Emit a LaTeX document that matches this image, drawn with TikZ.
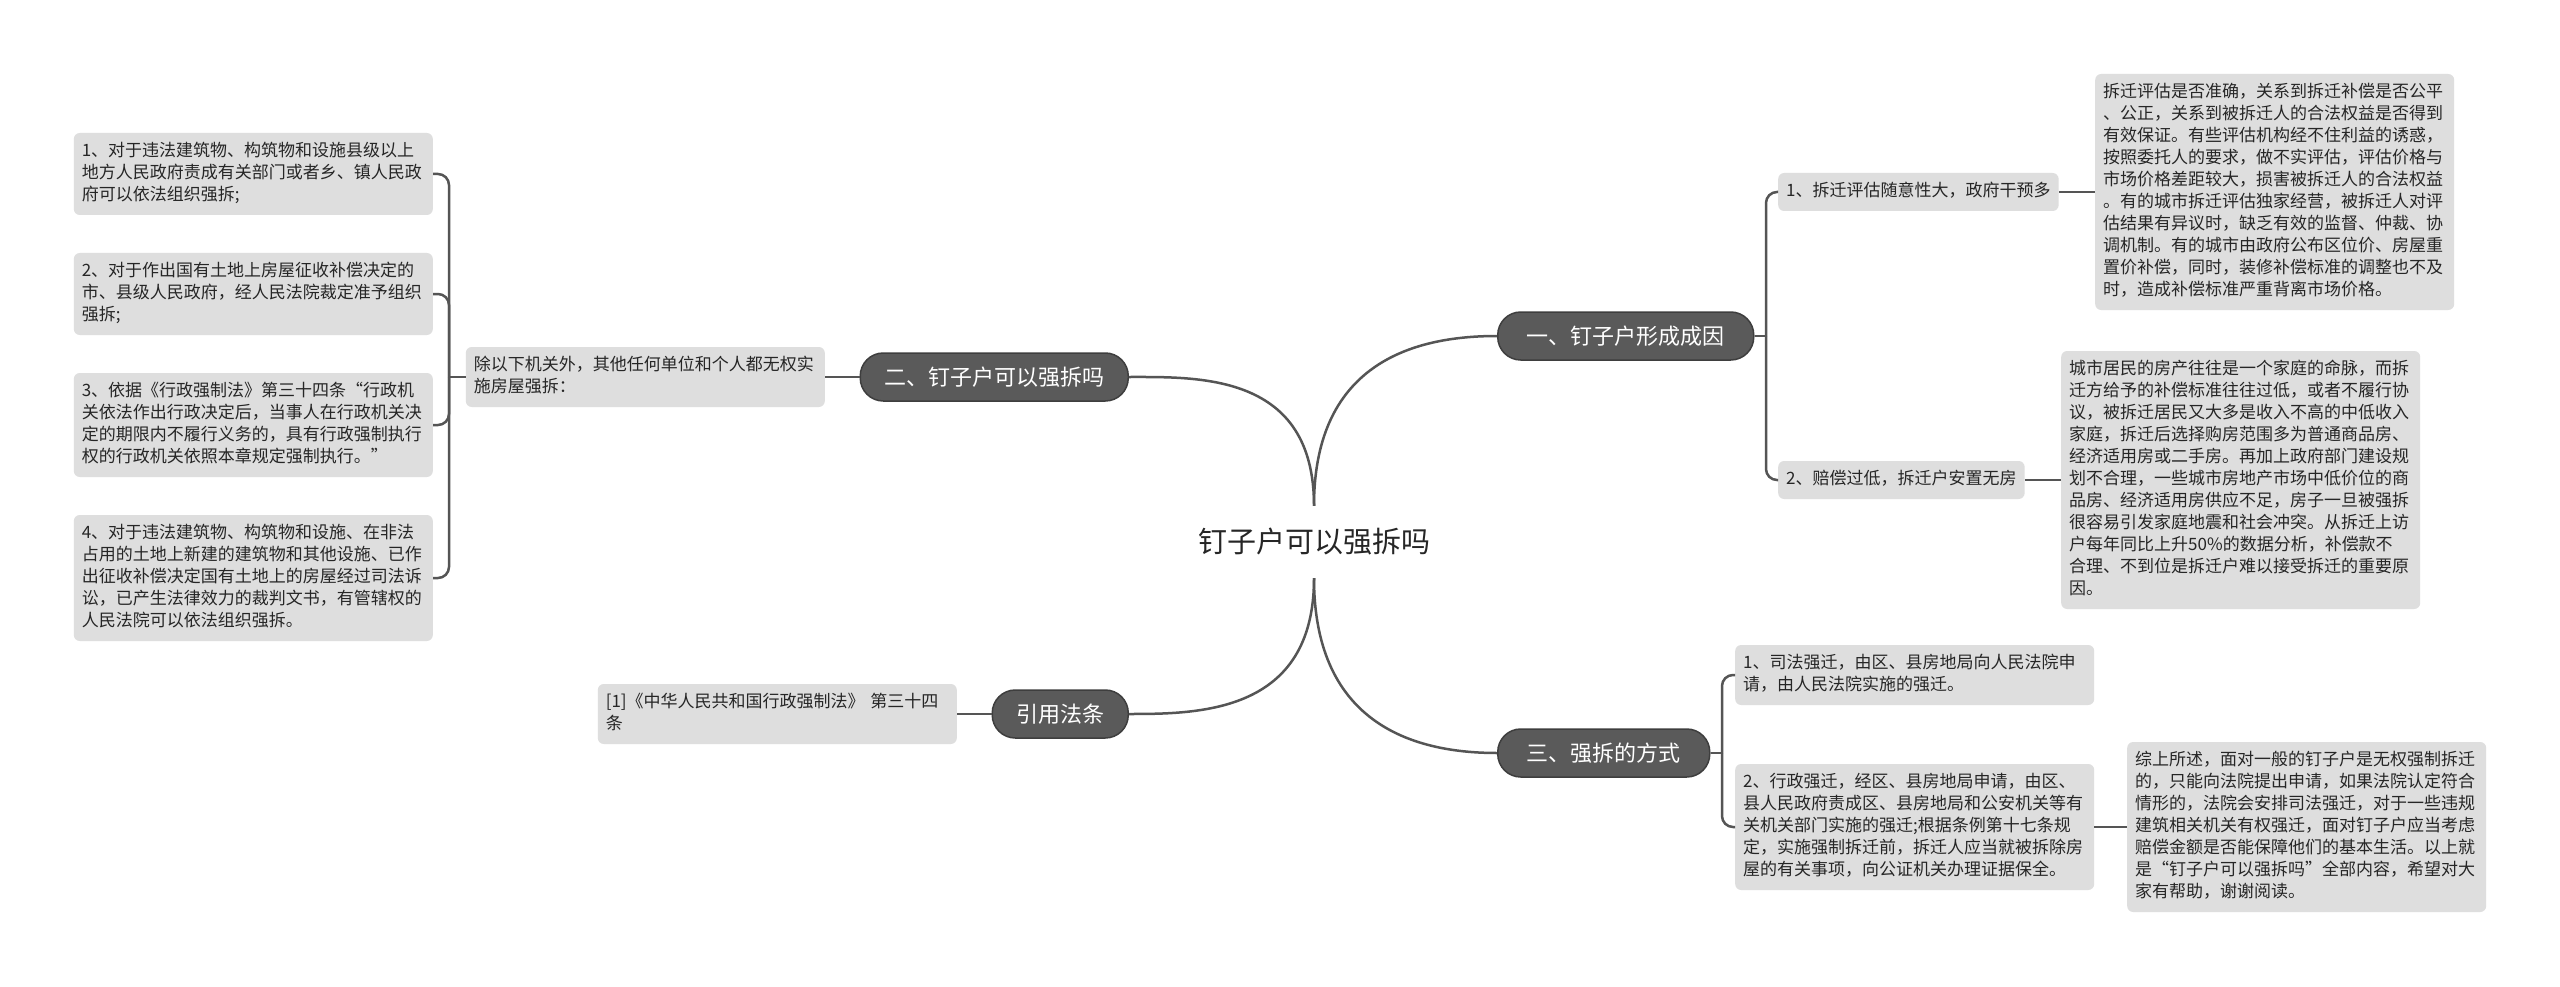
\documentclass[tikz,border=0pt]{standalone}
\usepackage{fontspec}
\setmainfont{Noto Sans CJK SC}
\definecolor{lineC}{RGB}{85,85,85}
\definecolor{darkC}{RGB}{90,90,90}
\definecolor{darkB}{RGB}{62,62,62}
\definecolor{leafC}{RGB}{222,222,222}
\definecolor{textC}{RGB}{38,38,38}
\begin{document}
\begin{tikzpicture}[x=1pt,y=-1pt,
  conn/.style={draw=lineC, line width=2.5pt},
  darknode/.style={fill=darkC, draw=darkB, line width=1.5pt, rounded corners=23pt,
    text=white, font=\fontsize{22}{26}\selectfont, inner xsep=24pt, inner ysep=0pt, minimum height=48pt},
  leaf/.style={fill=leafC, rounded corners=6pt, text=textC, font=\fontsize{17}{22}\selectfont,
    inner xsep=8pt, inner ysep=8pt, align=left, anchor=west,
    execute at begin node=\strut, execute at end node=\strut},
  wide/.style={leaf, text width=343pt},
  branch/.style={conn, rounded corners=11pt}
]
\fill[white] (0,0) rectangle (2560,987);
\useasboundingbox (0,0) rectangle (2560,987);

% root
\node[font=\fontsize{29}{34}\selectfont, text=textC, minimum height=72pt, inner sep=0pt] (root) at (1314,542) {钉子户可以强拆吗};

% main branches
\node[darknode, anchor=west, minimum width=256pt] (n1) at (1497,336) {一、钉子户形成成因};
\node[darknode, anchor=east] (n2) at (1129,377) {二、钉子户可以强拆吗};
\node[darknode, anchor=east] (n3) at (1129,714) {引用法条};
\node[darknode, anchor=west, minimum width=212pt] (n4) at (1497,753) {三、强拆的方式};

% right upper
\node[leaf] (a1) at (1778,192) {1、拆迁评估随意性大，政府干预多};
\node[leaf] (a2) at (1778,480) {2、赔偿过低，拆迁户安置无房};
\node[wide] (b1) at (2095,192) {拆迁评估是否准确，关系到拆迁补偿是否公平\\
、公正，关系到被拆迁人的合法权益是否得到\\
有效保证。有些评估机构经不住利益的诱惑，\\
按照委托人的要求，做不实评估，评估价格与\\
市场价格差距较大，损害被拆迁人的合法权益\\
。有的城市拆迁评估独家经营，被拆迁人对评\\
估结果有异议时，缺乏有效的监督、仲裁、协\\
调机制。有的城市由政府公布区位价、房屋重\\
置价补偿，同时，装修补偿标准的调整也不及\\
时，造成补偿标准严重背离市场价格。};
\node[wide] (b2) at (2061,480) {城市居民的房产往往是一个家庭的命脉，而拆\\
迁方给予的补偿标准往往过低，或者不履行协\\
议，被拆迁居民又大多是收入不高的中低收入\\
家庭，拆迁后选择购房范围多为普通商品房、\\
经济适用房或二手房。再加上政府部门建设规\\
划不合理，一些城市房地产市场中低价位的商\\
品房、经济适用房供应不足，房子一旦被强拆\\
很容易引发家庭地震和社会冲突。从拆迁上访\\
户每年同比上升50\%的数据分析，补偿款不\\
合理、不到位是拆迁户难以接受拆迁的重要原\\
因。};

% right lower
\node[wide] (e1) at (1735,675) {1、司法强迁，由区、县房地局向人民法院申\\
请，由人民法院实施的强迁。};
\node[wide] (e2) at (1735,827) {2、行政强迁，经区、县房地局申请，由区、\\
县人民政府责成区、县房地局和公安机关等有\\
关机关部门实施的强迁;根据条例第十七条规\\
定，实施强制拆迁前，拆迁人应当就被拆除房\\
屋的有关事项，向公证机关办理证据保全。};
\node[wide] (f) at (2127,827) {综上所述，面对一般的钉子户是无权强制拆迁\\
的，只能向法院提出申请，如果法院认定符合\\
情形的，法院会安排司法强迁，对于一些违规\\
建筑相关机关有权强迁，面对钉子户应当考虑\\
赔偿金额是否能保障他们的基本生活。以上就\\
是“钉子户可以强拆吗”全部内容，希望对大\\
家有帮助，谢谢阅读。};

% left
\node[wide, anchor=east] (c) at (825,377) {除以下机关外，其他任何单位和个人都无权实\\
施房屋强拆：};
\node[wide, anchor=east] (i1) at (433,174) {1、对于违法建筑物、构筑物和设施县级以上\\
地方人民政府责成有关部门或者乡、镇人民政\\
府可以依法组织强拆;};
\node[wide, anchor=east] (i2) at (433,294) {2、对于作出国有土地上房屋征收补偿决定的\\
市、县级人民政府，经人民法院裁定准予组织\\
强拆;};
\node[wide, anchor=east] (i3) at (433,425) {3、依据《行政强制法》第三十四条“行政机\\
关依法作出行政决定后，当事人在行政机关决\\
定的期限内不履行义务的，具有行政强制执行\\
权的行政机关依照本章规定强制执行。”};
\node[wide, anchor=east] (i4) at (433,578) {4、对于违法建筑物、构筑物和设施、在非法\\
占用的土地上新建的建筑物和其他设施、已作\\
出征收补偿决定国有土地上的房屋经过司法诉\\
讼，已产生法律效力的裁判文书，有管辖权的\\
人民法院可以依法组织强拆。};
\node[wide, anchor=east] (d) at (957,714) {[1]《中华人民共和国行政强制法》 第三十四\\
条};

% trunk points
\coordinate (t1) at (1766,336);
\coordinate (t2) at (449,377);
\coordinate (t4) at (1722,753);

% root curves
\draw[conn] (root.north) to[out=90,in=180,out looseness=1.5,in looseness=0.8] (n1.west);
\draw[conn] (root.north) to[out=90,in=0,out looseness=1.5,in looseness=0.8] (n2.east);
\draw[conn] (root.south) to[out=-90,in=180,out looseness=1.5,in looseness=0.8] (n4.west);
\draw[conn] (root.south) to[out=-90,in=0,out looseness=1.5,in looseness=0.8] (n3.east);

% branch connectors
\draw[conn] (n1.east) -- (t1);
\draw[branch] (t1) |- (a1.west);
\draw[branch] (t1) |- (a2.west);
\draw[conn] (a1.east) -- (b1.west);
\draw[conn] (a2.east) -- (b2.west);

\draw[conn] (n4.east) -- (t4);
\draw[branch] (t4) |- (e1.west);
\draw[branch] (t4) |- (e2.west);
\draw[conn] (e2.east) -- (f.west);

\draw[conn] (n2.west) -- (c.east);
\draw[conn] (c.west) -- (t2);
\draw[branch] (t2) |- (i1.east);
\draw[branch] (t2) |- (i2.east);
\draw[branch] (t2) |- (i3.east);
\draw[branch] (t2) |- (i4.east);

\draw[conn] (n3.west) -- (d.east);
\end{tikzpicture}
\end{document}
